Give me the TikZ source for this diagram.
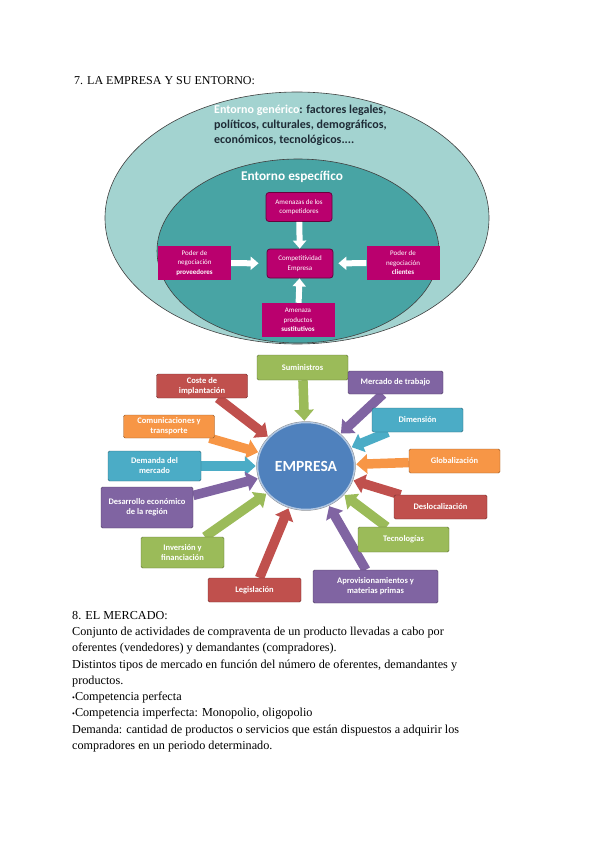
\documentclass[tikz,border=0pt]{standalone}
\usepackage{fontspec}
\setmainfont{Liberation Serif}
\newfontfamily\calibri{Carlito}
\usepackage{xcolor}
\definecolor{llteal}{HTML}{A3D3D0}
\definecolor{tteal}{HTML}{48A4A4}
\definecolor{mmagenta}{HTML}{BA006E}
\definecolor{bblue}{HTML}{4F81BD}
\definecolor{rred}{HTML}{C0504D}
\definecolor{ggreen}{HTML}{9BBB59}
\definecolor{ppurple}{HTML}{8064A2}
\definecolor{ccyan}{HTML}{4BACC6}
\definecolor{oorange}{HTML}{F79646}
\definecolor{ddark}{HTML}{1E2B36}
\usepackage{tikz}
\usetikzlibrary{shapes.geometric}
\usetikzlibrary{arrows.meta}
\usetikzlibrary{backgrounds}

\begin{document}
\begin{tikzpicture}[x=1pt,y=-1pt,every node/.style={inner sep=1pt},
caja/.style={fill=mmagenta, text=white, font=\calibri\fontsize{7}{9.5}\selectfont, align=center, minimum width=73pt, minimum height=34pt},
cajar/.style={caja, rounded corners=3pt, draw=mmagenta!55!black, line width=0.8pt, minimum width=66pt, minimum height=29pt},
blanca/.style={white, line width=6pt, -{Triangle[width=13pt,length=8pt]}},
factor/.style={fill=#1, draw=#1!60!black, rounded corners=1.5pt, text=white, font=\calibri\bfseries\fontsize{8.5}{10}\selectfont, align=center, minimum width=91pt, minimum height=24pt},
flecha/.style={#1, line width=9.5pt, -{Triangle[width=19pt,length=11pt]}, shorten >=1pt}]
\useasboundingbox (0,0) rectangle (600,848);
\node[anchor=base west, font=\fontsize{12}{13}\selectfont] (tit7) at (73,85) {7. LA EMPRESA Y SU ENTORNO:};
% entorno
\node[ellipse, fill=llteal, draw=black!75, line width=0.6pt, minimum width=384pt, minimum height=252pt] (generico) at (297,218) {};
\node[ellipse, fill=tteal, draw=black!75, line width=0.6pt, minimum width=282pt, minimum height=184pt] (especifico) at (298,251) {};
\node[anchor=north west, align=left, text=ddark, font=\calibri\bfseries\fontsize{12}{15}\selectfont] (txtgen) at (213,104) {\textcolor{white}{Entorno genérico}: factores legales,\\políticos, culturales, demográficos,\\económicos, tecnológicos....};
\node[text=white, font=\calibri\bfseries\fontsize{13.3}{15}\selectfont] (txtesp) at (292,177) {Entorno específico};
\node[cajar] (amenazas) at (299,207) {Amenazas de los\\competidores};
\node[cajar] (compet) at (300,263.5) {Competitividad\\Empresa};
\node[caja] (proveed) at (194.5,263) {Poder de\\negociación\\\textbf{proveedores}};
\node[caja] (clientes) at (403,263) {Poder de\\negociación\\\textbf{clientes}};
\node[caja] (sustit) at (298,320) {Amenaza\\productos\\\textbf{sustitutivos}};
\draw[blanca] (amenazas) -- (compet);
\draw[blanca, shorten >=8pt] (proveed) -- (compet);
\draw[blanca, shorten >=5pt] (clientes) -- (compet);
\draw[blanca] (sustit) -- (compet);
% mercado
\node[ellipse, fill=bblue, draw=bblue!45!white, line width=1.5pt, preaction={draw=black!45, line width=2.4pt}, minimum width=97pt, minimum height=87pt, text=white, font=\calibri\bfseries\fontsize{15.5}{17}\selectfont] (empresa) at (306,466) {EMPRESA};
\node[factor=ggreen, minimum height=25pt] (suministros) at (302.5,367.5) {Suministros};
\node[factor=ppurple, minimum width=95pt, minimum height=23pt] (trabajo) at (395.5,382.5) {Mercado de trabajo};
\node[factor=rred] (coste) at (202,386) {Coste de\\implantación};
\node[factor=ccyan] (dimension) at (417.5,420) {Dimensión};
\node[factor=oorange, minimum height=23pt] (comunic) at (169,426.5) {Comunicaciones y\\transporte};
\node[factor=oorange] (global) at (454.5,461) {Globalización};
\node[factor=ccyan, minimum width=93pt, minimum height=30pt] (demanda) at (154.5,466) {Demanda del\\mercado};
\node[factor=ppurple, minimum width=92pt, minimum height=41pt] (desarrollo) at (147,507.5) {Desarrollo económico\\de la región};
\node[factor=rred, minimum width=93pt] (desloc) at (440.5,507) {Deslocalización};
\node[factor=ggreen, minimum height=25pt] (tecno) at (403.5,539.5) {Tecnologías};
\node[factor=ggreen, minimum width=83pt, minimum height=31pt] (inversion) at (182.5,552.5) {Inversión y\\financiación};
\node[factor=rred, minimum width=93pt] (legisl) at (254.5,590) {Legislación};
\node[factor=ppurple, minimum width=125pt, minimum height=33pt] (aprov) at (375.5,586.5) {Aprovisionamientos y\\materias primas};
\begin{scope}[on background layer]
\draw[flecha=ggreen] (suministros) -- (empresa);
\draw[flecha=ppurple] (trabajo) -- (empresa);
\draw[flecha=rred] (coste) -- (empresa);
\draw[flecha=ccyan] (dimension) -- (empresa);
\draw[flecha=oorange] (comunic) -- (empresa);
\draw[flecha=oorange] (global) -- (empresa);
\draw[flecha=ccyan] (demanda) -- (empresa);
\draw[flecha=ppurple] (desarrollo) -- (empresa);
\draw[flecha=rred] (desloc) -- (empresa);
\draw[flecha=ggreen] (tecno) -- (empresa);
\draw[flecha=ggreen] (inversion) -- (empresa);
\draw[flecha=rred] (legisl) -- (empresa);
\draw[flecha=ppurple] (aprov) -- (empresa);
\end{scope}
% texto
\node[anchor=north west, align=left, inner sep=0pt, font=\fontsize{12.2}{16.25}\selectfont] (textomercado) at (72,611) {8. EL MERCADO:\\Conjunto de actividades de compraventa de un producto llevadas a cabo por\\oferentes (vendedores) y demandantes (compradores).\\Distintos tipos de mercado en función del número de oferentes, demandantes y\\productos.\\{\footnotesize •}Competencia perfecta\\{\footnotesize •}Competencia imperfecta: Monopolio, oligopolio\\Demanda: cantidad de productos o servicios que están dispuestos a adquirir los\\compradores en un periodo determinado.};
\end{tikzpicture}
\end{document}
